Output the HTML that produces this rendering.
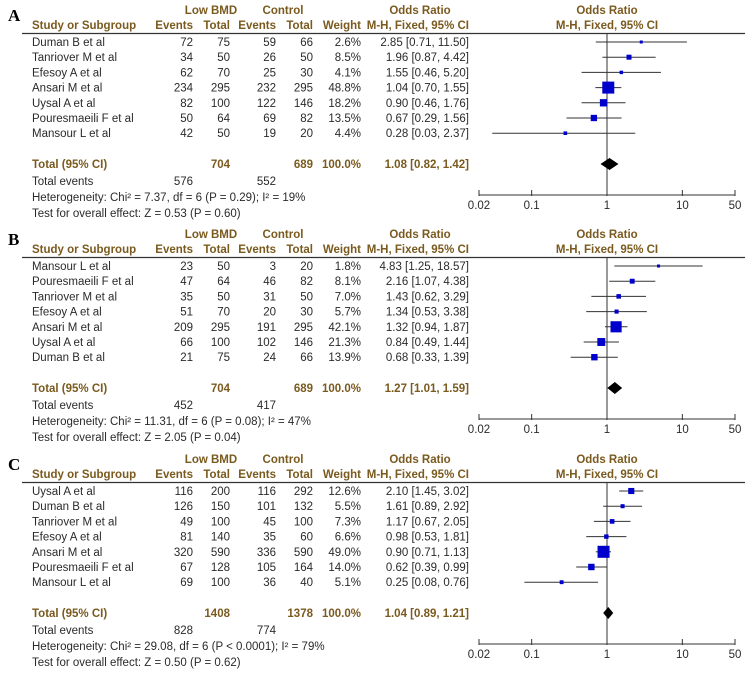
<!DOCTYPE html>
<html><head><meta charset="utf-8"><style>
html,body{margin:0;padding:0;background:#fff;}
svg{display:block;font-family:"Liberation Sans",Arial,sans-serif;}
.h{fill:#7a5a1e;font-weight:bold;font-size:11.5px;}
.t{fill:#2a2a2a;font-size:11.5px;}
.tb{fill:#7a5a1e;font-weight:bold;font-size:11.5px;}
.lt{font-family:"Liberation Serif",serif;font-weight:bold;font-size:17px;fill:#000;}
</style></head><body>
<svg id="c" width="752" height="673" viewBox="0 0 752 673" xmlns="http://www.w3.org/2000/svg"></svg>
<script>
const panelLetters = ["A","B","C"];
const panelOffsets = [0,224,449];
const studiesA = ["Duman B et al","Tanriover M et al","Efesoy A et al","Ansari M et al","Uysal A et al","Pouresmaeili F et al","Mansour L et al"];
const evLowA = [72,34,62,234,82,50,42];
const totLowA = [75,50,70,295,100,64,50];
const evCtlA = [59,26,25,232,122,69,19];
const totCtlA = [66,50,30,295,146,82,20];
const weightA = [2.6,8.5,4.1,48.8,18.2,13.5,4.4];
const orA = [2.85,1.96,1.55,1.04,0.90,0.67,0.28];
const loA = [0.71,0.87,0.46,0.70,0.46,0.29,0.03];
const hiA = [11.50,4.42,5.20,1.55,1.76,1.56,2.37];
const totalA = {n1:704,n2:689,or:1.08,lo:0.82,hi:1.42,e1:576,e2:552,het:"Heterogeneity: Chi² = 7.37, df = 6 (P = 0.29); I² = 19%",z:"Test for overall effect: Z = 0.53 (P = 0.60)"};

const studiesB = ["Mansour L et al","Pouresmaeili F et al","Tanriover M et al","Efesoy A et al","Ansari M et al","Uysal A et al","Duman B et al"];
const evLowB = [23,47,35,51,209,66,21];
const totLowB = [50,64,50,70,295,100,75];
const evCtlB = [3,46,31,20,191,102,24];
const totCtlB = [20,82,50,30,295,146,66];
const weightB = [1.8,8.1,7.0,5.7,42.1,21.3,13.9];
const orB = [4.83,2.16,1.43,1.34,1.32,0.84,0.68];
const loB = [1.25,1.07,0.62,0.53,0.94,0.49,0.33];
const hiB = [18.57,4.38,3.29,3.38,1.87,1.44,1.39];
const totalB = {n1:704,n2:689,or:1.27,lo:1.01,hi:1.59,e1:452,e2:417,het:"Heterogeneity: Chi² = 11.31, df = 6 (P = 0.08); I² = 47%",z:"Test for overall effect: Z = 2.05 (P = 0.04)"};

const studiesC = ["Uysal A et al","Duman B et al","Tanriover M et al","Efesoy A et al","Ansari M et al","Pouresmaeili F et al","Mansour L et al"];
const evLowC = [116,126,49,81,320,67,69];
const totLowC = [200,150,100,140,590,128,100];
const evCtlC = [116,101,45,35,336,105,36];
const totCtlC = [292,132,100,60,590,164,40];
const weightC = [12.6,5.5,7.3,6.6,49.0,14.0,5.1];
const orC = [2.10,1.61,1.17,0.98,0.90,0.62,0.25];
const loC = [1.45,0.89,0.67,0.53,0.71,0.39,0.08];
const hiC = [3.02,2.92,2.05,1.81,1.13,0.99,0.76];
const totalC = {n1:1408,n2:1378,or:1.04,lo:0.89,hi:1.21,e1:828,e2:774,het:"Heterogeneity: Chi² = 29.08, df = 6 (P < 0.0001); I² = 79%",z:"Test for overall effect: Z = 0.50 (P = 0.62)"};

const tickVals = [0.02,0.1,1,10,50];
const tickLabels = ["0.02","0.1","1","10","50"];

const svg = document.getElementById('c');
const NS = "http://www.w3.org/2000/svg";
function mk(tag, attrs, parent){const e=document.createElementNS(NS,tag);for(const k in attrs)e.setAttribute(k,attrs[k]);(parent||svg).appendChild(e);return e;}
function txt(s,x,y,cls,anchor,parent){const e=mk('text',{x:x,y:y,class:cls,'text-anchor':anchor||'start'},parent);e.textContent=s;return e;}
const xScale = v => 607 + Math.log10(v)*(128/Math.log10(50));
const fmt2 = v => v.toFixed(2);

const panels = [
 [studiesA,evLowA,totLowA,evCtlA,totCtlA,weightA,orA,loA,hiA,totalA],
 [studiesB,evLowB,totLowB,evCtlB,totCtlB,weightB,orB,loB,hiB,totalB],
 [studiesC,evLowC,totLowC,evCtlC,totCtlC,weightC,orC,loC,hiC,totalC]];

panels.forEach((p,pi)=>{
  const [st,e1,n1,e2,n2,w,or,lo,hi,tot]=p;
  const o = panelOffsets[pi];
  const g = mk('g',{});
  
  
  const L = txt(panelLetters[pi],8,o+21,'lt','start',g);
  
  
  // headers
  txt("Low BMD",211,o+14,'h','middle',g);
  txt("Control",283,o+14,'h','middle',g);
  txt("Odds Ratio",420,o+14,'h','middle',g);
  txt("Odds Ratio",607,o+14,'h','middle',g);
  txt("Study or Subgroup",32,o+29,'h','start',g);
  txt("Events",193,o+29,'h','end',g);
  txt("Total",230,o+29,'h','end',g);
  txt("Events",276,o+29,'h','end',g);
  txt("Total",313,o+29,'h','end',g);
  txt("Weight",361,o+29,'h','end',g);
  txt("M-H, Fixed, 95% CI",469,o+29,'h','end',g);
  txt("M-H, Fixed, 95% CI",607,o+29,'h','middle',g);
  const hl = mk('line',{x1:22,x2:745,y1:o+33.5,y2:o+33.5,stroke:'#333','stroke-width':1.2},g);
  
  
  // vertical null line
  const axY = o+195;
  mk('line',{x1:xScale(1),x2:xScale(1),y1:o+33,y2:axY,stroke:'#333','stroke-width':1},g);
  st.forEach((s,i)=>{
    const y = o+42+i*15.2;
    const r = mk('g',{},g);
    
    
    txt(s,32,y+4,'t','start',r);
    txt(String(e1[i]),193,y+4,'t','end',r);
    txt(String(n1[i]),230,y+4,'t','end',r);
    txt(String(e2[i]),276,y+4,'t','end',r);
    txt(String(n2[i]),313,y+4,'t','end',r);
    txt(w[i].toFixed(1)+"%",361,y+4,'t','end',r);
    txt(fmt2(or[i])+" ["+fmt2(lo[i])+", "+fmt2(hi[i])+"]",469,y+4,'t','end',r);
    const ci = mk('line',{x1:xScale(lo[i]),x2:xScale(hi[i]),y1:y,y2:y,stroke:'#333','stroke-width':1},r);
    
    
    const sz = Math.max(3, 12*Math.sqrt(w[i]/48.8));
    const b = mk('rect',{x:xScale(or[i])-sz/2,y:y-sz/2,width:sz,height:sz,fill:'#0000cc'},r);
    
    
  });
  const ty = o+164;
  txt("Total (95% CI)",32,ty+4,'tb','start',g);
  txt(String(tot.n1),230,ty+4,'tb','end',g);
  txt(String(tot.n2),313,ty+4,'tb','end',g);
  txt("100.0%",361,ty+4,'tb','end',g);
  txt(fmt2(tot.or)+" ["+fmt2(tot.lo)+", "+fmt2(tot.hi)+"]",469,ty+4,'tb','end',g);
  const dm = mk('polygon',{points:[xScale(tot.lo)+','+ty, xScale(tot.or)+','+(ty-6), xScale(tot.hi)+','+ty, xScale(tot.or)+','+(ty+6)].join(' '),fill:'#000'},g);
  
  
  txt("Total events",32,o+185,'t','start',g);
  txt(String(tot.e1),193,o+185,'t','end',g);
  txt(String(tot.e2),276,o+185,'t','end',g);
  txt(tot.het,32,o+201,'t','start',g);
  txt(tot.z,32,o+217,'t','start',g);
  // axis
  const ax = mk('g',{},g);
  
  
  mk('line',{x1:xScale(0.02),x2:xScale(50),y1:axY,y2:axY,stroke:'#333','stroke-width':1},ax);
  tickVals.forEach((v,i)=>{
    mk('line',{x1:xScale(v),x2:xScale(v),y1:axY-5,y2:axY+1,stroke:'#333','stroke-width':1},ax);
    const tl = txt(tickLabels[i],xScale(v),axY+14,'t','middle',ax);
    
    
  });
});
</script>
</body></html>
